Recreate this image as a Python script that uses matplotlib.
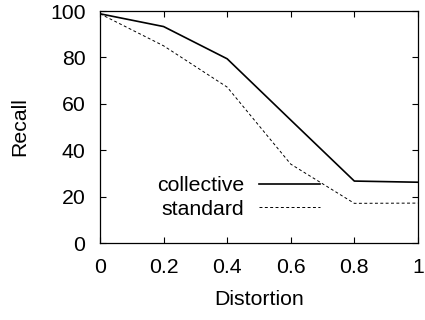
import matplotlib
matplotlib.use('Agg')
import matplotlib.pyplot as plt

distortion = [0, 0.2, 0.4, 0.6, 0.8, 1.0]
collective = [98.8, 93.3, 79.4, 53, 26.7, 26.2]
standard = [98.8, 85, 67.2, 34, 17.1, 17.2]

plt.rcParams['font.family'] = ['Liberation Sans', 'DejaVu Sans']
plt.rcParams['font.size'] = 15.3

fig = plt.figure(figsize=(4.25, 3.2), dpi=100)
ax = fig.add_axes([0.2353, 0.2406, 0.748, 0.725])

ax.plot(distortion, collective, color='black', lw=1.2, label='collective')
ax.plot(distortion, standard, color='black', lw=0.7, linestyle=(0, (3, 2.5)), label='standard')

ax.set_xlim(0, 1)
ax.set_ylim(0, 100)
ax.set_xticks([0, 0.2, 0.4, 0.6, 0.8, 1])
ax.set_xticklabels(['0', '0.2', '0.4', '0.6', '0.8', '1'])
ax.set_yticks([0, 20, 40, 60, 80, 100])
ax.tick_params(direction='in', top=True, right=True, length=4, width=0.8, pad=10.5)
ax.tick_params(axis='x', pad=11)
for s in ax.spines.values():
    s.set_linewidth(0.9)

ax.set_xlabel('Distortion', labelpad=9)
ax.set_ylabel('Recall', labelpad=15)

ax.legend(frameon=False, markerfirst=False, handlelength=2.85, handletextpad=0.72,
          labelspacing=0.2, loc='center right', bbox_to_anchor=(0.692, 0.196),
          borderpad=0, borderaxespad=0)

fig.savefig('out.png', dpi=100)
